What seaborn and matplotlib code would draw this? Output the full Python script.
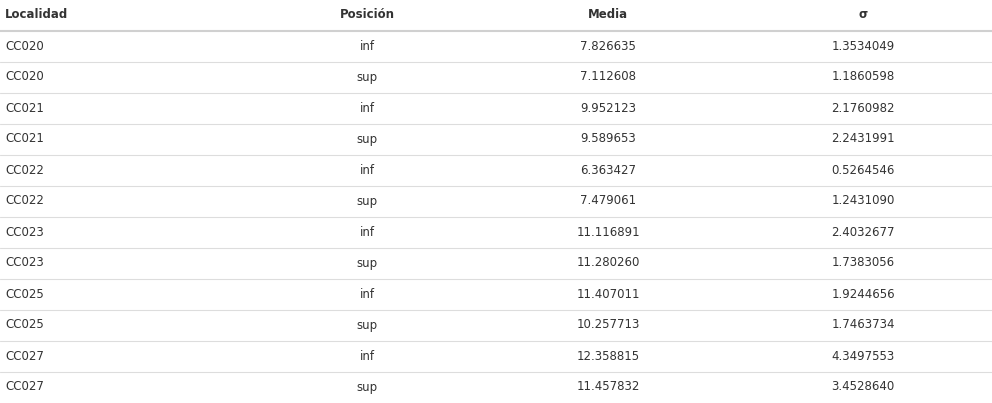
import matplotlib
matplotlib.use('Agg')
import matplotlib.pyplot as plt
import seaborn as sns

sns.set_theme(style='white')
plt.rcParams['font.family'] = ['DejaVu Sans']

# Table data
headers = ['Localidad', 'Posición', 'Media', 'σ']
localidad = ['CC020', 'CC020', 'CC021', 'CC021', 'CC022', 'CC022',
             'CC023', 'CC023', 'CC025', 'CC025', 'CC027', 'CC027']
posicion = ['inf', 'sup'] * 6
media = [7.826635, 7.112608, 9.952123, 9.589653, 6.363427, 7.479061,
         11.116891, 11.280260, 11.407011, 10.257713, 12.358815, 11.457832]
sigma = [1.3534049, 1.1860598, 2.1760982, 2.2431991, 0.5264546, 1.2431090,
         2.4032677, 1.7383056, 1.9244656, 1.7463734, 4.3497553, 3.4528640]

fig = plt.figure(figsize=(9.92, 4.03), dpi=100)
ax = fig.add_axes([0, 0, 1, 1])
ax.set_xlim(0, 992)
ax.set_ylim(403, 0)
ax.axis('off')

txt = '#333333'
fs = 8.5
col_x = [5, 367, 608, 863]
aligns = ['left', 'center', 'center', 'center']

for x, h, a in zip(col_x, headers, aligns):
    ax.text(x, 14, h, ha=a, va='center', fontsize=fs, fontweight='bold', color=txt)
ax.axhline(31, color='#d0d0d0', lw=1.5)

for i in range(len(localidad)):
    y = 46 + 31 * i
    vals = [localidad[i], posicion[i], f'{media[i]:.6f}', f'{sigma[i]:.7f}']
    for x, v, a in zip(col_x, vals, aligns):
        ax.text(x, y, v, ha=a, va='center', fontsize=fs, color=txt)
    if i < len(localidad) - 1:
        ax.axhline(y + 16, color='#dddddd', lw=0.8)

fig.savefig('out.png', dpi=100)
